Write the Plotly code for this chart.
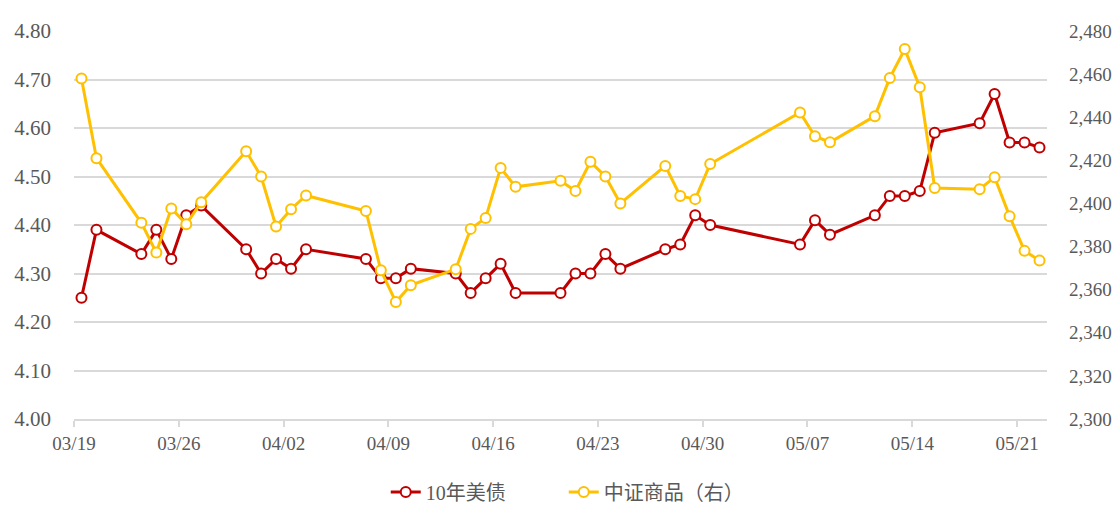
import pandas as pd
import plotly.graph_objects as go

dates = ["2026-03-19","2026-03-20","2026-03-23","2026-03-24","2026-03-25","2026-03-26","2026-03-27",
         "2026-03-30","2026-03-31","2026-04-01","2026-04-02","2026-04-03","2026-04-07","2026-04-08",
         "2026-04-09","2026-04-10","2026-04-13","2026-04-14","2026-04-15","2026-04-16","2026-04-17",
         "2026-04-20","2026-04-21","2026-04-22","2026-04-23","2026-04-24","2026-04-27","2026-04-28",
         "2026-04-29","2026-04-30","2026-05-06","2026-05-07","2026-05-08","2026-05-11","2026-05-12",
         "2026-05-13","2026-05-14","2026-05-15","2026-05-18","2026-05-19","2026-05-20","2026-05-21",
         "2026-05-22"]

us10y = [4.25,4.39,4.34,4.39,4.33,4.42,4.44,
         4.35,4.30,4.33,4.31,4.35,4.33,4.29,
         4.29,4.31,4.30,4.26,4.29,4.32,4.26,
         4.26,4.30,4.30,4.34,4.31,4.35,4.36,
         4.42,4.40,4.36,4.41,4.38,4.42,4.46,
         4.46,4.47,4.59,4.61,4.67,4.57,4.57,
         4.56]

csi_commodity = [2458.0,2421.0,2391.0,2377.2,2397.7,2390.4,2400.6,
                 2424.2,2412.5,2389.3,2397.3,2403.7,2396.5,2369.0,
                 2354.3,2362.1,2369.5,2388.2,2393.3,2416.5,2407.7,
                 2410.5,2405.8,2419.3,2412.5,2400.0,2417.4,2403.5,
                 2402.0,2418.3,2442.2,2431.2,2428.4,2440.5,2458.2,
                 2471.6,2453.9,2407.2,2406.6,2412.2,2394.1,2378.0,
                 2373.5]

tick_dates = ["2026-03-19","2026-03-26","2026-04-02","2026-04-09","2026-04-16",
              "2026-04-23","2026-04-30","2026-05-07","2026-05-14","2026-05-21"]
tick_labels = ["03/19","03/26","04/02","04/09","04/16","04/23","04/30","05/07","05/14","05/21"]

name_red = "10年美债"
name_yellow = "中证商品（右）"

RED = "#C00000"
YEL = "#FFC000"
GRID = "#D9D9D9"
TXT = "#595959"
FONT = "Liberation Serif, Noto Sans CJK SC, serif"

x = pd.to_datetime(dates)
half = pd.Timedelta(hours=12)
tickvals = pd.to_datetime(tick_dates) - half

fig = go.Figure()
fig.add_trace(go.Scatter(
    x=x, y=us10y, name=name_red, mode="lines+markers",
    line=dict(color=RED, width=3),
    marker=dict(symbol="circle", size=10, color="white", line=dict(color=RED, width=2)),
))
fig.add_trace(go.Scatter(
    x=x, y=csi_commodity, name=name_yellow, mode="lines+markers", yaxis="y2",
    line=dict(color=YEL, width=3),
    marker=dict(symbol="circle", size=10, color="white", line=dict(color=YEL, width=2)),
))

fig.update_layout(
    width=1119, height=505,
    margin=dict(l=74, r=72, t=31, b=86, autoexpand=False),
    paper_bgcolor="white", plot_bgcolor="white",
    font=dict(family=FONT, color=TXT, size=19),
    showlegend=True,
    legend=dict(orientation="h", x=0.3204, xanchor="left", y=-0.188, yanchor="middle",
                entrywidth=133, entrywidthmode="pixels",
                font=dict(size=20, color=TXT), traceorder="normal"),
    xaxis=dict(
        type="date", automargin=False,
        range=[x[0] - half, x[-1] + half],
        tickvals=tickvals, ticktext=tick_labels,
        showgrid=False, zeroline=False,
        showline=True, linecolor=GRID, linewidth=1.5,
        ticks="outside", ticklen=6, tickcolor=GRID, tickwidth=1.5,
        ticklabelstandoff=0,
        tickfont=dict(size=19, color=TXT),
    ),
    yaxis=dict(
        automargin=False,
        range=[4.0, 4.8], dtick=0.1, tickformat=".2f",
        showgrid=True, gridcolor=GRID, gridwidth=1.5, zeroline=False,
        showline=False, ticks="", ticklabelstandoff=22,
        tickfont=dict(size=21, color=TXT),
    ),
    yaxis2=dict(
        automargin=False,
        overlaying="y", side="right",
        range=[2300, 2480], dtick=20, tickformat=",",
        showgrid=False, zeroline=False, showline=False, ticks="",
        ticklabelstandoff=21,
        tickfont=dict(size=19, color=TXT),
    ),
)

fig.write_html("out.html",
               config={"displayModeBar": False},
               post_script="document.body.style.margin='0';document.body.style.overflow='hidden';")
